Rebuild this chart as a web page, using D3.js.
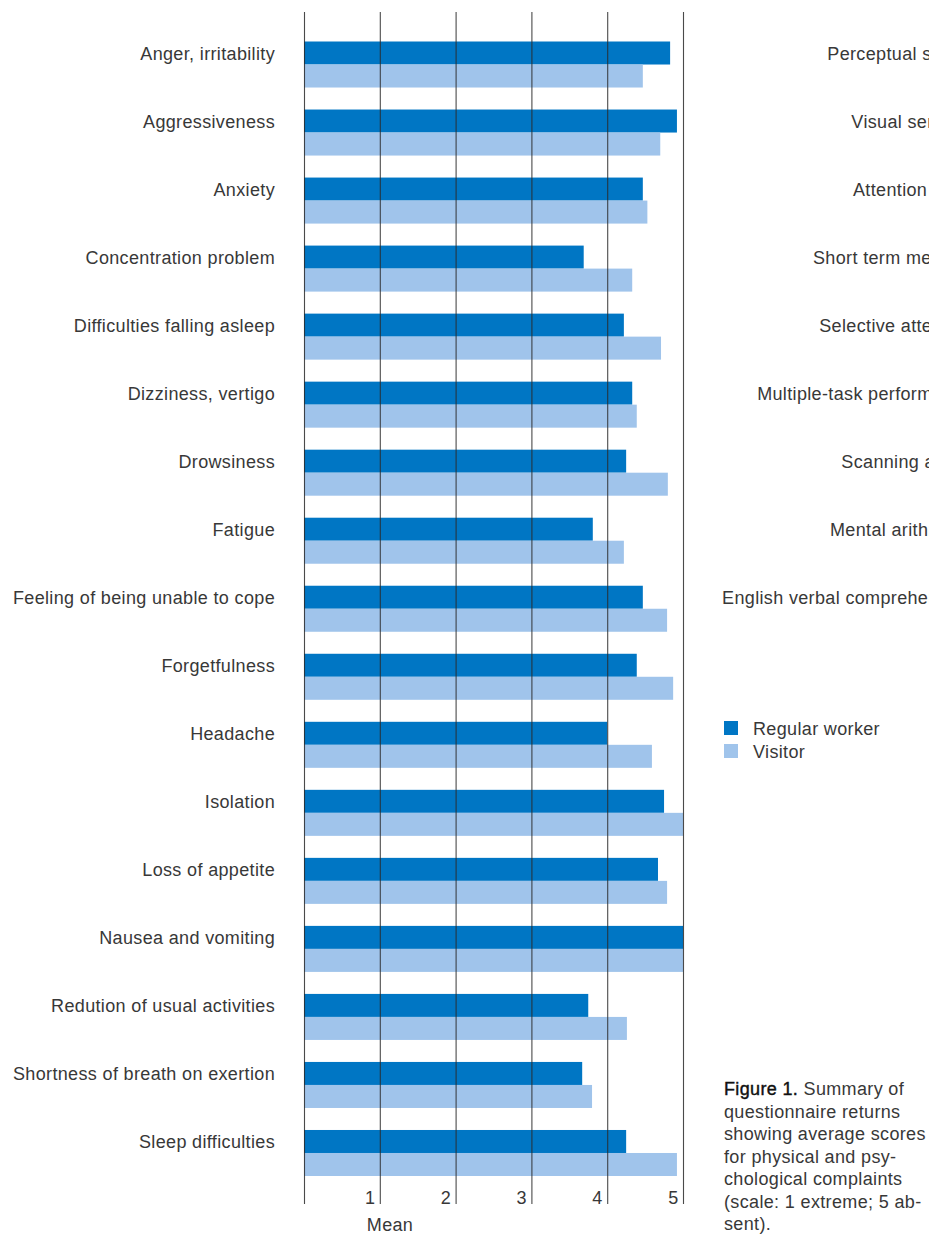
<!DOCTYPE html>
<html>
<head>
<meta charset="utf-8">
<script src="https://cdn.jsdelivr.net/npm/d3@7"></script>
<style>
  body { margin: 0; background: #fff; }
  svg { display: block; font-family: "Liberation Sans", Arial, sans-serif; }
  text { letter-spacing: 0.35px; }
</style>
</head>
<body>
<div id="chart"></div>
<script>
// complaint categories top to bottom
const categories = [
  "Anger, irritability", "Aggressiveness", "Anxiety", "Concentration problem",
  "Difficulties falling asleep", "Dizziness, vertigo", "Drowsiness", "Fatigue",
  "Feeling of being unable to cope", "Forgetfulness", "Headache", "Isolation",
  "Loss of appetite", "Nausea and vomiting", "Redution of usual activities",
  "Shortness of breath on exertion", "Sleep difficulties"
];
const seriesNames = ["Regular worker", "Visitor"];
const regularWorker = [4.83, 4.92, 4.47, 3.69, 4.22, 4.33, 4.25, 3.81, 4.47, 4.39, 4.00, 4.75, 4.67, 5.00, 3.75, 3.67, 4.25];
const visitor       = [4.47, 4.70, 4.53, 4.33, 4.71, 4.39, 4.80, 4.22, 4.79, 4.87, 4.59, 5.00, 4.79, 5.00, 4.26, 3.80, 4.92];
const tickValues = [0, 1, 2, 3, 4, 5];
// labels of the neighbouring (cut off) panel
const rightLabels = [
  "Perceptual speed", "Visual sensory", "Attention span", "Short term memory",
  "Selective attention", "Multiple-task performance", "Scanning ability",
  "Mental arithmetic", "English verbal comprehension"
];
const captionLines = [
  "questionnaire returns", "showing average scores", "for physical and psy-",
  "chological complaints", "(scale: 1 extreme; 5 ab-", "sent)."
];

const WIDTH = 929, HEIGHT = 1234;
const DARK = "#0076c4";
const LIGHT = "#a0c4eb";
const TEXT = "#383838";
const colors = [DARK, LIGHT];

const rows = categories.map((c, i) => ({cat: c, values: [regularWorker[i], visitor[i]]}));

let svg = d3.select("#chart")
    .append("svg")
    .attr("width", WIDTH)
    .attr("height", HEIGHT);

let x = d3.scaleLinear()
    .domain([0, 5])
    .range([304, 683]);
let y = d3.scaleBand()
    .domain(categories)
    .range([41.5, 1176])
    .paddingInner(22 / 68)
    .paddingOuter(0);
let ySub = d3.scaleBand()
    .domain([0, 1])
    .range([0, y.bandwidth()]);

// bars
let groups = svg.selectAll("g.row").data(rows).enter()
    .append("g")
    .attr("class", "row")
    .attr("transform", d => `translate(0, ${y(d.cat)})`);
groups.selectAll("rect")
    .data(d => d.values)
    .enter()
    .append("rect")
    .attr("x", x(0))
    .attr("y", (d, i) => ySub(i))
    .attr("width", d => x(d) - x(0))
    .attr("height", ySub.bandwidth())
    .attr("fill", (d, i) => colors[i]);

// category labels
svg.selectAll("text.cat").data(categories).enter()
    .append("text")
    .attr("class", "cat")
    .attr("x", 275)
    .attr("y", d => y(d) + 18.3)
    .attr("text-anchor", "end")
    .style("font-size", "18px")
    .style("fill", TEXT)
    .text(d => d);

// gridlines + tick numbers, drawn over the bars
let axis = svg.append("g")
    .attr("transform", "translate(0, 1204)")
    .call(d3.axisBottom(x)
        .tickValues(tickValues)
        .tickSize(-(1204 - 12))
        .tickFormat(d => d === 0 ? "" : d));
axis.select(".domain").remove();
axis.selectAll(".tick line")
    .attr("stroke", "#2a2a2a")
    .attr("stroke-opacity", 0.85)
    .attr("stroke-width", 1.1);
axis.selectAll(".tick text")
    .attr("x", -5)
    .attr("y", 0)
    .attr("dy", 0)
    .attr("text-anchor", "end")
    .style("font-size", "18px")
    .style("font-family", "'Liberation Sans', Arial, sans-serif")
    .style("fill", TEXT);

svg.append("text")
    .attr("x", 390)
    .attr("y", 1231)
    .attr("text-anchor", "middle")
    .style("font-size", "18px")
    .style("fill", TEXT)
    .text("Mean");

// labels of the next panel, cut by the page edge as in the source page
svg.selectAll("text.right").data(rightLabels).enter()
    .append("text")
    .attr("class", "right")
    .attr("x", 973)
    .attr("y", (d, i) => y(categories[i]) + 18.3)
    .attr("text-anchor", "end")
    .style("font-size", "18px")
    .style("fill", TEXT)
    .text(d => d);

// legend
let legend = svg.selectAll("g.legend").data(seriesNames).enter()
    .append("g")
    .attr("class", "legend")
    .attr("transform", (d, i) => `translate(724, ${721 + i * 23})`);
legend.append("rect")
    .attr("width", 14)
    .attr("height", 14)
    .attr("fill", (d, i) => colors[i]);
legend.append("text")
    .attr("x", 29)
    .attr("y", 14)
    .style("font-size", "18px")
    .style("fill", TEXT)
    .text(d => d);

// caption
let caption = svg.append("text")
    .attr("x", 724)
    .attr("y", 1095)
    .style("font-size", "18px")
    .style("fill", TEXT);
caption.append("tspan")
    .style("fill", "#111")
    .style("stroke", "#111")
    .style("stroke-width", 0.4)
    .text("Figure 1.");
caption.append("tspan").text(" Summary of");
captionLines.forEach((line, i) => {
    caption.append("tspan")
        .attr("x", 724)
        .attr("y", 1095 + (i + 1) * 22.5)
        .text(line);
});
</script>
</body>
</html>
